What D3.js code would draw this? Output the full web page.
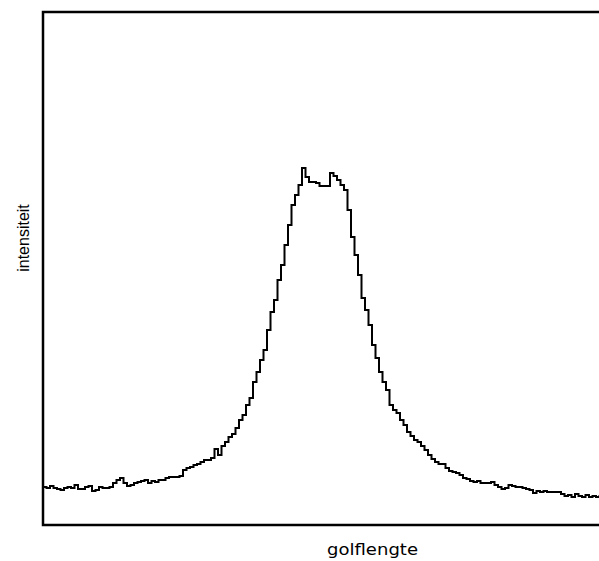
<!DOCTYPE html>
<html>
<head>
<meta charset="utf-8">
<script src="https://cdn.jsdelivr.net/npm/d3@7"></script>
<style>
  body { margin: 0; background: #fff; }
  svg { display: block; }
</style>
</head>
<body>
<script>
var width = 599;
var height = 561;

// intensity per channel (arbitrary units)
var intensity = [
  38, 37, 39, 37, 36, 35, 37, 38, 37, 40,
  36, 36, 38, 39, 34, 35, 38, 37, 37, 38,
  42, 45, 47, 42, 39, 40, 42, 43, 44, 45,
  42, 44, 43, 45, 45, 47, 48, 48, 48, 49,
  55, 57, 58, 60, 61, 63, 65, 65, 67, 76,
  70, 79, 83, 88, 91, 97, 105, 110, 120, 127,
  143, 153, 165, 175, 195, 213, 225, 245, 260, 280,
  300, 320, 330, 340, 357, 348, 343, 343, 342, 339,
  339, 339, 352, 349, 345, 340, 335, 315, 288, 270,
  250, 227, 215, 200, 180, 167, 153, 143, 135, 120,
  115, 112, 105, 100, 93, 89, 85, 83, 79, 75,
  70, 66, 63, 61, 61, 57, 54, 53, 52, 50,
  47, 46, 44, 43, 44, 42, 42, 42, 43, 40,
  38, 36, 37, 40, 39, 38, 38, 37, 36, 35,
  32, 34, 33, 34, 33, 33, 33, 33, 31, 29,
  30, 28, 31, 29, 28, 30, 28, 29, 28, 29
];
var xLabel = "golflengte";
var yLabel = "intensiteit";

var plotLeft = 43, plotTop = 12, plotBottom = 525, plotRight = 603;

var svg = d3.select("body").append("svg")
  .attr("width", width)
  .attr("height", height);

var x = d3.scaleLinear().domain([0, intensity.length]).range([plotLeft, plotRight]);
var y = d3.scaleLinear().domain([0, 513]).range([plotBottom, plotTop]);

var pts = intensity.map(function (d, i) { return [i, d]; });
pts.push([intensity.length, intensity[intensity.length - 1]]);

var line = d3.line()
  .x(function (d) { return x(d[0]); })
  .y(function (d) { return y(d[1]); })
  .curve(d3.curveStepAfter);

svg.append("path")
  .attr("d", line(pts))
  .attr("fill", "none")
  .attr("stroke", "#000")
  .attr("stroke-width", 2);

// frame: left, top and bottom edges (right side is off the page)
svg.append("path")
  .attr("d", "M" + (plotRight + 10) + "," + plotTop + "H" + plotLeft + "V" + plotBottom + "H" + (plotRight + 10))
  .attr("fill", "none")
  .attr("stroke", "#000")
  .attr("stroke-width", 2.5);

svg.append("text")
  .attr("transform", "translate(29,238) rotate(-90)")
  .attr("text-anchor", "middle")
  .attr("font-family", "Liberation Sans, Arial, sans-serif")
  .attr("font-size", 16)
  .text(yLabel);

svg.append("text")
  .attr("x", 327)
  .attr("y", 555)
  .attr("textLength", 91)
  .attr("lengthAdjust", "spacingAndGlyphs")
  .attr("font-family", "DejaVu Sans, sans-serif")
  .attr("font-size", 15)
  .text(xLabel);
</script>
</body>
</html>
